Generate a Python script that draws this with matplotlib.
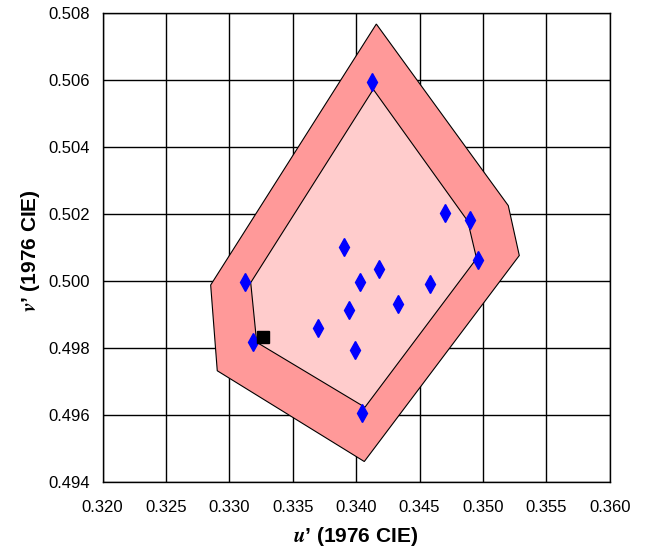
import matplotlib
matplotlib.use("Agg")
import matplotlib.pyplot as plt
from matplotlib.patches import Polygon

plt.rcParams['font.family'] = ['Liberation Sans', 'DejaVu Sans']
plt.rcParams['mathtext.fontset'] = 'stix'

# outer tolerance region (u', v')
outer_u = [0.34159, 0.35200, 0.35287, 0.34064, 0.32904, 0.32852]
outer_v = [0.50768, 0.50226, 0.50077, 0.49462, 0.49733, 0.49989]

# inner region
inner_u = [0.34135, 0.34880, 0.34950, 0.34069, 0.33215, 0.33168]
inner_v = [0.50573, 0.50180, 0.50068, 0.49624, 0.49818, 0.49996]

# measured points
pts_u = [0.34127, 0.34701, 0.34898, 0.34963, 0.33904, 0.34182, 0.34030, 0.34582,
         0.33946, 0.34332, 0.33991, 0.34046, 0.33701, 0.33123, 0.33183]
pts_v = [0.50596, 0.50203, 0.50183, 0.50064, 0.50101, 0.50037, 0.49997, 0.49991,
         0.49914, 0.49931, 0.49795, 0.49606, 0.49860, 0.49997, 0.49820]

# reference (target) point
ref_u = [0.33267]
ref_v = [0.49833]

xticks = [0.320, 0.325, 0.330, 0.335, 0.340, 0.345, 0.350, 0.355, 0.360]
yticks = [0.494, 0.496, 0.498, 0.500, 0.502, 0.504, 0.506, 0.508]

fig = plt.figure(figsize=(6.47, 5.55), dpi=100)
ax = fig.add_axes([0.1587, 0.131, 0.7836, 0.845])

ax.add_patch(Polygon(list(zip(outer_u, outer_v)), closed=True, facecolor='#ff9999',
                     edgecolor='black', linewidth=0.8, zorder=2))
ax.add_patch(Polygon(list(zip(inner_u, inner_v)), closed=True, facecolor='#ffcccc',
                     edgecolor='black', linewidth=0.8, zorder=3))

ax.plot(pts_u, pts_v, linestyle='none', marker='d', color='#0000ff', markersize=9, zorder=4)
ax.plot(ref_u, ref_v, linestyle='none', marker='s', color='black', markersize=9, zorder=5)

ax.set_xlim(0.320, 0.360)
ax.set_ylim(0.494, 0.508)
ax.set_xticks(xticks)
ax.set_yticks(yticks)
ax.set_xticklabels([f"{t:.3f}" for t in xticks])
ax.set_yticklabels([f"{t:.3f}" for t in yticks])
ax.tick_params(length=0, labelsize=12)
ax.tick_params(axis='x', pad=13)
ax.tick_params(axis='y', pad=9)
ax.grid(True, color='black', linewidth=1.0, zorder=1)
ax.set_axisbelow(True)
for s in ax.spines.values():
    s.set_linewidth(1.0)
    s.set_zorder(6)

fig.text(356 / 647, 1 - 537 / 555, r"$\mathbfit{u}$’ (1976 CIE)", ha='center', va='center',
         fontsize=15, fontweight='bold')
fig.text(30 / 647, 1 - 251 / 555, r"$\mathbfit{v}$’ (1976 CIE)", ha='center', va='center',
         fontsize=15, fontweight='bold', rotation=90)

fig.savefig("out.png", dpi=100)
